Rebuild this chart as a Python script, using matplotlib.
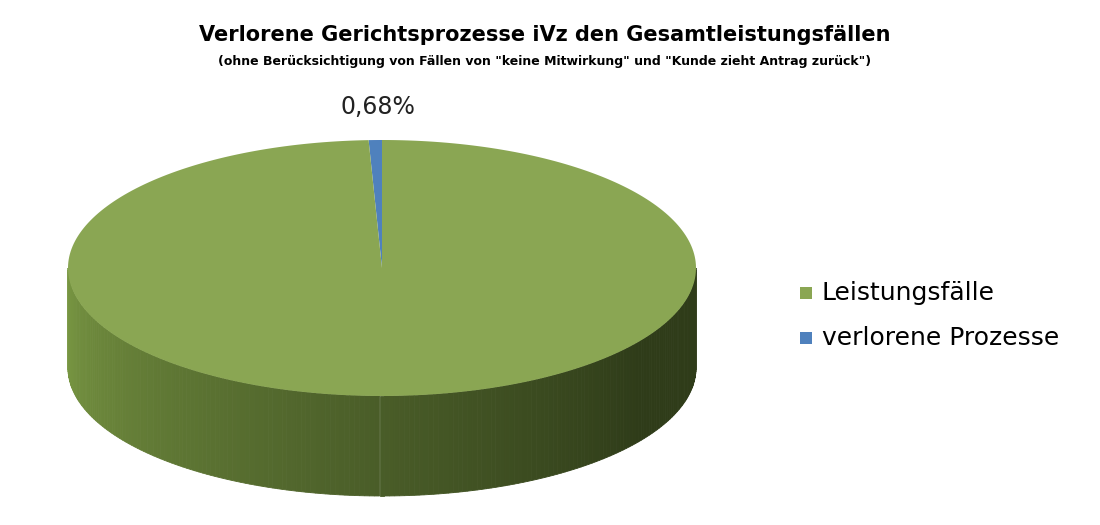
import numpy as np
import matplotlib.pyplot as plt
from matplotlib.patches import Polygon
import matplotlib.colors as mcolors

labels = ["Leistungsfälle", "verlorene Prozesse"]
values = [99.32, 0.68]
colors = ["#8aa653", "#4f81bd"]

fig = plt.figure(figsize=(11, 5.25), dpi=100)
ax = fig.add_axes([0, 0, 1, 1])
ax.set_xlim(0, 1100)
ax.set_ylim(525, 0)
ax.axis('off')

cx, cy, rx, ry, depth = 382, 268, 314, 128, 100

def pt(t):
    return cx + rx * np.cos(t), cy - ry * np.sin(t)

# side wall: front half with shading gradient
ts = np.linspace(np.pi, 2 * np.pi, 200)
light = np.array(mcolors.to_rgb("#7b9a44"))
dark = np.array(mcolors.to_rgb("#2f3c19"))
for a, b in zip(ts[:-1], ts[1:]):
    x1, y1 = pt(a)
    x2, y2 = pt(b)
    f = (a - np.pi) / np.pi
    w = np.clip(f * 1.25, 0, 1) ** 0.9
    c = light * (1 - w) + dark * w
    ax.add_patch(Polygon([(x1, y1), (x2, y2), (x2, y2 + depth), (x1, y1 + depth)],
                         closed=True, fc=c, ec=c, lw=0.6))

# top wedges, starting at the top and going counterclockwise (leftwards)
start = np.pi / 2
total = sum(values)
order = [1, 0]
for i in order:
    span = 2 * np.pi * values[i] / total
    tt = np.linspace(start, start + span, 300)
    xs, ys = pt(tt)
    poly = [(cx, cy)] + list(zip(xs, ys))
    ax.add_patch(Polygon(poly, closed=True, fc=colors[i], ec='none'))
    start += span

ax.text(378, 107, "0,68%", fontsize=17, ha='center', va='center', color='#222222')

ax.text(545, 35, "Verlorene Gerichtsprozesse iVz den Gesamtleistungsfällen",
        fontsize=15, fontweight='bold', ha='center', va='center')
ax.text(545, 62, '(ohne Berücksichtigung von Fällen von "keine Mitwirkung" und "Kunde zieht Antrag zurück")',
        fontsize=9, fontweight='bold', ha='center', va='center')

for k, (lab, col) in enumerate(zip(labels, colors)):
    y = 293 + k * 45
    ax.add_patch(Polygon([(800, y - 6), (812, y - 6), (812, y + 6), (800, y + 6)], fc=col, ec='none'))
    ax.text(822, y, lab, fontsize=18, va='center', ha='left')

fig.savefig("out.png", dpi=100)
